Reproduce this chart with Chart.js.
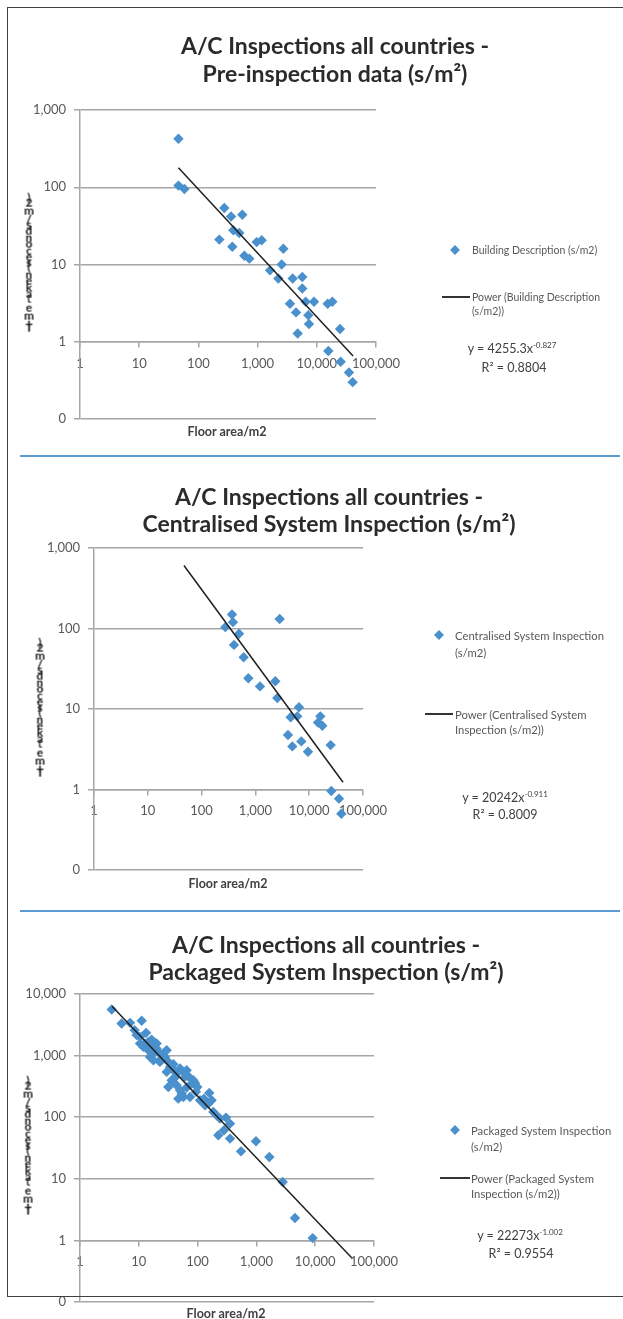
<!DOCTYPE html>
<html>
<head>
<meta charset="utf-8">
<title>A/C Inspections all countries</title>
<script src="https://cdn.jsdelivr.net/npm/chart.js@4.4.0/dist/chart.umd.min.js"></script>
<style>
  html, body { margin: 0; padding: 0; background: #fff; }
  body { width: 623px; height: 1319px; position: relative; overflow: hidden; font-family: Lato, "Open Sans", sans-serif; }
  .caja { position: absolute; left: 0; width: 623px; }
  .caja canvas { display: block; }
  .marco { position: absolute; left: 7px; top: 7px; width: 700px; height: 1288px; border: 1.5px solid #404040; border-right: none; z-index: 5; }
  .sep { position: absolute; left: 20px; width: 600px; height: 1.5px; background: #5b9bd5; }
  .tit { position: absolute; transform: translate(-50%, -50%); font-size: 23px; font-weight: 700; color: #2b2b2b; white-space: nowrap; }
  .ejex { position: absolute; transform: translate(-50%, -50%); font-size: 12.5px; font-weight: 700; color: #404040; white-space: nowrap; }
  .ejey { position: absolute; transform: translate(-50%, -50%) rotate(-90deg); font-size: 12px; font-weight: 700; color: #1a1a1a; white-space: nowrap; }
  .ejey span { display: inline-block; transform: rotate(90deg); white-space: pre; }
  .ley { position: absolute; transform: translateY(-50%); font-size: 11.3px; color: #595959; white-space: nowrap; }
  .ley.peq { font-size: 10.5px; }
  .rombo { position: absolute; width: 7px; height: 7px; background: #4a90cd; transform: translate(-50%, -50%) rotate(45deg); }
  .linea { position: absolute; height: 2px; background: #333; transform: translateY(-50%); }
  .ecu { position: absolute; transform: translate(-50%, -50%); font-size: 12.5px; color: #404040; white-space: nowrap; }
  .ecu sup { font-size: 8px; }
</style>
</head>
<body>
<div class="marco"></div>
<div class="sep" style="top:455px"></div>
<div class="sep" style="top:910px"></div>

<div class="caja" style="top:0px"><canvas id="g1" width="623" height="450"></canvas></div>
<div class="caja" style="top:455px"><canvas id="g2" width="623" height="450"></canvas></div>
<div class="caja" style="top:910px"><canvas id="g3" width="623" height="409"></canvas></div>

<!-- Gráfica 1 -->
<div class="tit" style="left:335px;top:45px">A/C Inspections all countries -</div>
<div class="tit" style="left:335px;top:73px">Pre-inspection data (s/m²)</div>
<div class="ejex" style="left:227px;top:431px">Floor area/m2</div>
<div class="ejey" style="left:29px;top:263px"></div>
<div class="rombo" style="left:455px;top:250px"></div>
<div class="ley peq" style="left:472px;top:250px">Building Description (s/m2)</div>
<div class="linea" style="left:442px;top:297px;width:28px"></div>
<div class="ley peq" style="left:472px;top:297px">Power (Building Description</div>
<div class="ley peq" style="left:472px;top:311px">(s/m2))</div>
<div class="ecu" style="left:512px;top:348px">y = 4255.3x<sup>-0.827</sup></div>
<div class="ecu" style="left:514px;top:367px">R² = 0.8804</div>

<!-- Gráfica 2 -->
<div class="tit" style="left:329px;top:496px">A/C Inspections all countries -</div>
<div class="tit" style="left:329px;top:523px">Centralised System Inspection (s/m²)</div>
<div class="ejex" style="left:228px;top:883px">Floor area/m2</div>
<div class="ejey" style="left:40px;top:708px"></div>
<div class="rombo" style="left:439px;top:635px"></div>
<div class="ley" style="left:455px;top:635px">Centralised System Inspection</div>
<div class="ley" style="left:455px;top:652px">(s/m2)</div>
<div class="linea" style="left:425px;top:714px;width:28px"></div>
<div class="ley" style="left:455px;top:714px">Power (Centralised System</div>
<div class="ley" style="left:455px;top:729px">Inspection (s/m2))</div>
<div class="ecu" style="left:505px;top:797px">y = 20242x<sup>-0.911</sup></div>
<div class="ecu" style="left:505px;top:814px">R² = 0.8009</div>

<!-- Gráfica 3 -->
<div class="tit" style="left:326px;top:944px">A/C Inspections all countries -</div>
<div class="tit" style="left:326px;top:971px">Packaged System Inspection (s/m²)</div>
<div class="ejex" style="left:226px;top:1313px">Floor area/m2</div>
<div class="ejey" style="left:28px;top:1146px"></div>
<div class="rombo" style="left:455px;top:1130px"></div>
<div class="ley" style="left:471px;top:1130px">Packaged System Inspection</div>
<div class="ley" style="left:471px;top:1146px">(s/m2)</div>
<div class="linea" style="left:440px;top:1178px;width:30px"></div>
<div class="ley" style="left:471px;top:1178px">Power (Packaged System</div>
<div class="ley" style="left:471px;top:1193px">Inspection (s/m2))</div>
<div class="ecu" style="left:520px;top:1235px">y = 22273x<sup>-1.002</sup></div>
<div class="ecu" style="left:521px;top:1253px">R² = 0.9554</div>

<script>
// Gráfica 1: Pre-inspection data (superficie m2 / tiempo s/m2)
var area1 = [46, 46, 58, 274, 356, 552, 226, 374, 389, 490, 597, 725, 964, 1172, 2722, 2548, 1620, 2239, 3912, 5690, 5690, 3525, 6486, 8973, 15270, 18300, 4455, 7190, 7380, 4750, 24660, 15670, 25290, 34990, 40360];
var tiempo1 = [425, 105, 95, 53.8, 41.9, 44, 21, 17, 27.7, 25.6, 13, 11.9, 19.5, 20.6, 16, 10, 8.4, 6.6, 6.6, 6.9, 4.9, 3.1, 3.3, 3.3, 3.1, 3.3, 2.4, 2.2, 1.7, 1.28, 1.46, 0.76, 0.55, 0.40, 0.30];
var tendRango1 = [46, 41000];
var tendCoef1 = 4255.3;
var tendExp1 = -0.827;

// Gráfica 2: Centralised System Inspection
var area2 = [367, 383, 276, 496, 400, 605, 739, 1217, 2825, 2345, 2557, 6460, 4520, 6010, 4035, 4855, 7140, 9500, 16100, 14580, 17540, 25060, 25760, 35800, 39560];
var tiempo2 = [149, 120, 104, 86, 62.6, 44, 24.1, 19.1, 131, 22.1, 13.7, 10.5, 7.9, 8.1, 4.75, 3.43, 3.96, 2.94, 8.1, 6.8, 6.2, 3.56, 0.96, 0.77, 0.50];
var tendRango2 = [47, 42500];
var tendCoef2 = 20242;
var tendExp2 = -0.911;

// Gráfica 3: Packaged System Inspection
var area3 = [3.46, 5.1, 7.1, 11.2, 8.5, 9.2, 13.3, 16.5, 10.5, 11.9, 14.5, 17.7, 20.1, 15.5, 17.7, 26.1, 27.9, 31.8, 22.9, 34, 38.7, 29.8, 44, 50.2, 57.2, 61, 36.2, 44, 31.8, 50.2, 47, 57.2, 84.6, 79.2, 74.3, 110, 158, 173, 134, 185, 211, 304, 356, 225, 281, 356, 547, 984, 1660, 2800, 4530, 9060,
             10.5, 14.5, 21.5, 24.5, 29.8, 38.7, 65.2, 69.5, 90.3, 98.9, 41.3, 65.2, 53.6, 93.9, 128, 152, 240, 20.1, 12.7, 17.2];
var tiempo3 = [5610, 3320, 3400, 3670, 2590, 2150, 2340, 1820, 1570, 1390, 1225, 1080, 1300, 953, 841, 1080, 953, 790, 790, 656, 579, 544, 511, 617, 544, 451, 398, 330, 310, 274, 200, 213, 398, 352, 213, 188, 248, 188, 156, 122, 107, 98.5, 78.6, 50.9, 61.3, 44.9, 27.9, 40.6, 22.6, 8.87, 2.31, 1.09,
               2015, 1670, 1150, 896, 1225, 725, 579, 463, 360, 310, 440, 303, 242, 258, 200, 166, 94.9, 1570, 1570, 1387];
var tendRango3 = [3.5, 41700];
var tendCoef3 = 22273;
var tendExp3 = -1.002;

// Marcas de los ejes
var ticksX = [1, 10, 100, 1000, 10000, 100000];
var ticksY12 = [0.1, 1, 10, 100, 1000];
var ticksY3 = [0.1, 1, 10, 100, 1000, 10000];

var tituloY = 'Time taken (seconds/m2)';
var colorPunto = '#4a90cd';
var colorGris = '#a6a6a6';

Chart.defaults.font.family = 'Lato, "Open Sans", sans-serif';
Chart.defaults.font.size = 13;
Chart.defaults.color = '#595959';

// Título del eje Y: letras rectas apiladas, como en el original
document.querySelectorAll('.ejey').forEach(function (el) {
    el.innerHTML = tituloY.split('').map(function (c) { return '<span>' + c + '</span>'; }).join('');
});

function formato(v) {
    return Math.round(v).toLocaleString('en-US');
}

function puntos(xs, ys) {
    return xs.map(function (x, i) { return { x: x, y: ys[i] }; });
}

// Línea de tendencia potencial y = a·x^b (recta en log-log)
function tendencia(rango, a, b) {
    return rango.map(function (x) { return { x: x, y: a * Math.pow(x, b) }; });
}

function crearGrafico(id, etiqueta, xs, ys, rango, a, b, ticksY, caja) {
    var ctx = document.getElementById(id).getContext('2d');
    return new Chart(ctx, {
        type: 'scatter',
        data: {
            datasets: [{
                label: etiqueta,
                data: puntos(xs, ys),
                pointStyle: 'rectRot',
                pointRadius: 5.2,
                pointHoverRadius: 5.2,
                backgroundColor: colorPunto,
                borderColor: colorPunto,
                borderWidth: 0,
                order: 1
            }, {
                label: 'Power (' + etiqueta + ')',
                data: tendencia(rango, a, b),
                showLine: true,
                pointRadius: 0,
                borderColor: '#1f1f1f',
                borderWidth: 1.5,
                order: 0
            }]
        },
        options: {
            responsive: false,
            animation: false,
            events: [],
            layout: {
                padding: { left: 0, top: caja.arriba, right: 623 - caja.der, bottom: caja.alto - caja.abajo }
            },
            plugins: {
                legend: { display: false },
                tooltip: { enabled: false }
            },
            scales: {
                x: {
                    type: 'logarithmic',
                    min: 1,
                    max: 100000,
                    position: { y: 1 },
                    afterBuildTicks: function (s) { s.ticks = ticksX.map(function (v) { return { value: v }; }); },
                    afterFit: function (s) { s.height = 0; },
                    ticks: { callback: formato, maxRotation: 0, autoSkip: false, padding: 9 },
                    grid: { drawOnChartArea: false, tickLength: 5, color: colorGris, lineWidth: 1.5 },
                    border: { color: colorGris, width: 1.5 }
                },
                y: {
                    type: 'logarithmic',
                    min: ticksY[0],
                    max: ticksY[ticksY.length - 1],
                    afterBuildTicks: function (s) { s.ticks = ticksY.map(function (v) { return { value: v }; }); },
                    afterFit: function (s) { s.width = caja.izq; },
                    ticks: { callback: formato, padding: 8 },
                    grid: { tickLength: 6, color: colorGris, lineWidth: 1.5 },
                    border: { color: colorGris, width: 1.5 }
                }
            }
        }
    });
}

crearGrafico('g1', 'Building Description (s/m2)', area1, tiempo1, tendRango1, tendCoef1, tendExp1, ticksY12,
    { izq: 80, der: 376, arriba: 110, abajo: 419, alto: 450 });
crearGrafico('g2', 'Centralised System Inspection (s/m2)', area2, tiempo2, tendRango2, tendCoef2, tendExp2, ticksY12,
    { izq: 94, der: 363, arriba: 93, abajo: 415, alto: 450 });
crearGrafico('g3', 'Packaged System Inspection (s/m2)', area3, tiempo3, tendRango3, tendCoef3, tendExp3, ticksY3,
    { izq: 80, der: 374, arriba: 84, abajo: 392, alto: 409 });
</script>
</body>
</html>
